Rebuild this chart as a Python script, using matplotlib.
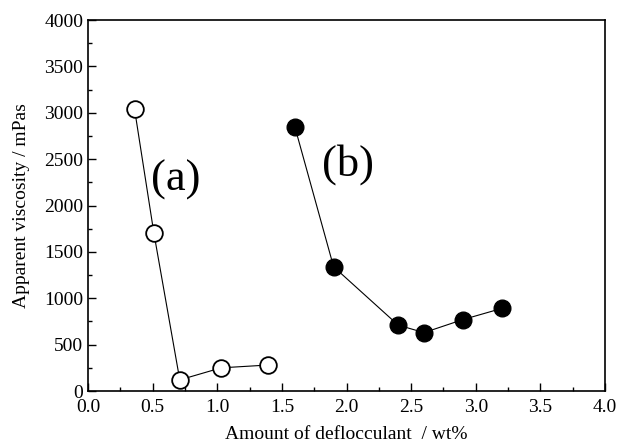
import matplotlib
matplotlib.use('Agg')
import matplotlib.pyplot as plt
from matplotlib.ticker import MultipleLocator

plt.rcParams['font.family'] = ['Liberation Serif', 'DejaVu Serif']

# series (a): open circles
xa = [0.36, 0.51, 0.71, 1.03, 1.39]
ya = [3040, 1700, 120, 250, 280]

# series (b): filled circles
xb = [1.60, 1.90, 2.40, 2.60, 2.90, 3.20]
yb = [2850, 1340, 710, 630, 770, 890]

fig = plt.figure(figsize=(6.18, 4.48), dpi=100)
ax = fig.add_axes([0.1424, 0.1272, 0.8366, 0.828])

ax.plot(xa, ya, color='black', lw=0.8, marker='o', ms=12,
        mfc='white', mec='black', mew=1.3)
ax.plot(xb, yb, color='black', lw=0.8, marker='o', ms=12,
        mfc='black', mec='black')

ax.text(0.68, 2280, '(a)', fontsize=32, ha='center', va='center')
ax.text(2.01, 2440, '(b)', fontsize=32, ha='center', va='center')

ax.set_xlim(0, 4.0)
ax.set_ylim(0, 4000)
ax.xaxis.set_major_locator(MultipleLocator(0.5))
ax.xaxis.set_minor_locator(MultipleLocator(0.25))
ax.yaxis.set_major_locator(MultipleLocator(500))
ax.yaxis.set_minor_locator(MultipleLocator(250))
ax.xaxis.set_major_formatter(plt.FormatStrFormatter('%.1f'))
ax.tick_params(which='both', direction='in', top=False, right=False, labelsize=14, width=1.0)
ax.tick_params(axis='x', pad=6)
ax.tick_params(which='major', length=6)
ax.tick_params(which='minor', length=3)
for s in ax.spines.values():
    s.set_linewidth(1.2)

ax.set_xlabel('Amount of deflocculant  / wt%', fontsize=14, labelpad=7)
ax.set_ylabel('Apparent viscosity / mPas', fontsize=14, labelpad=10)

fig.savefig('out.png', dpi=100)
